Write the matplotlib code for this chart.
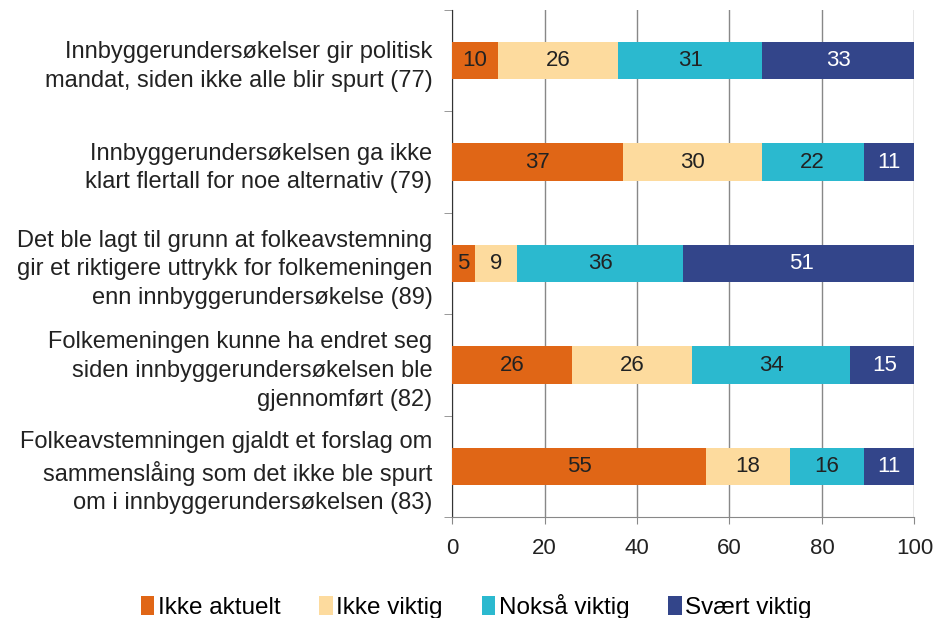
import matplotlib.pyplot as plt
import numpy as np

plt.rcParams['font.family'] = ['Liberation Sans', 'DejaVu Sans']

categories = [
    "Innbyggerundersøkelser gir politisk\nmandat, siden ikke alle blir spurt (77)",
    "Innbyggerundersøkelsen ga ikke\nklart flertall for noe alternativ (79)",
    "Det ble lagt til grunn at folkeavstemning\ngir et riktigere uttrykk for folkemeningen\nenn innbyggerundersøkelse (89)",
    "Folkemeningen kunne ha endret seg\nsiden innbyggerundersøkelsen ble\ngjennomført (82)",
    "Folkeavstemningen gjaldt et forslag om\nsammenslåing som det ikke ble spurt\nom i innbyggerundersøkelsen (83)",
]
series = ["Ikke aktuelt", "Ikke viktig", "Nokså viktig", "Svært viktig"]
ikke_aktuelt = [10, 37, 5, 26, 55]
ikke_viktig = [26, 30, 9, 26, 18]
noksa_viktig = [31, 22, 36, 34, 16]
svaert_viktig = [33, 11, 51, 15, 11]

colors = ["#E06616", "#FDDB9E", "#2BB9CF", "#33458A"]
text_colors = ["#222222", "#222222", "#222222", "white"]

fig = plt.figure(figsize=(9.34, 6.18), dpi=100)
ax = fig.add_axes([0.484, 0.163, 0.495, 0.821])

y = np.arange(len(categories))
left = np.zeros(len(categories))
for name, vals, c, tc in zip(series, [ikke_aktuelt, ikke_viktig, noksa_viktig, svaert_viktig],
                             colors, text_colors):
    vals = np.array(vals)
    ax.barh(y, vals, left=left, height=0.37, color=c, label=name, zorder=3)
    for yi, l, v in zip(y, left, vals):
        ax.text(l + v / 2, yi, str(v), ha="center", va="center", fontsize=16,
                color=tc, zorder=4)
    left += vals

ax.set_xlim(0, 100)
ax.set_ylim(len(categories) - 0.5, -0.5)
ax.set_xticks([0, 20, 40, 60, 80, 100])
ax.tick_params(axis="x", labelsize=16, length=5, color="#888888", pad=10,
               labelcolor="#222222")
ax.set_yticks(y)
ax.set_yticklabels(categories, fontsize=17, color="#222222", linespacing=1.4)
ax.tick_params(axis="y", which="major", length=0, pad=14)
ax.set_yticks(np.arange(len(categories) + 1) - 0.5, minor=True)
ax.tick_params(axis="y", which="minor", length=6, color="#888888")
ax.grid(axis="x", color="#888888", lw=1, zorder=0)
for s in ["top", "right"]:
    ax.spines[s].set_visible(False)
ax.spines["left"].set_color("#333333")
ax.spines["bottom"].set_color("#888888")

fig.legend(loc="lower center", bbox_to_anchor=(0.51, -0.037), ncol=4, frameon=False,
           fontsize=17.5, handlelength=0.55, handleheight=0.8, handletextpad=0.15,
           columnspacing=1.6)

fig.savefig("out.png", dpi=100)
